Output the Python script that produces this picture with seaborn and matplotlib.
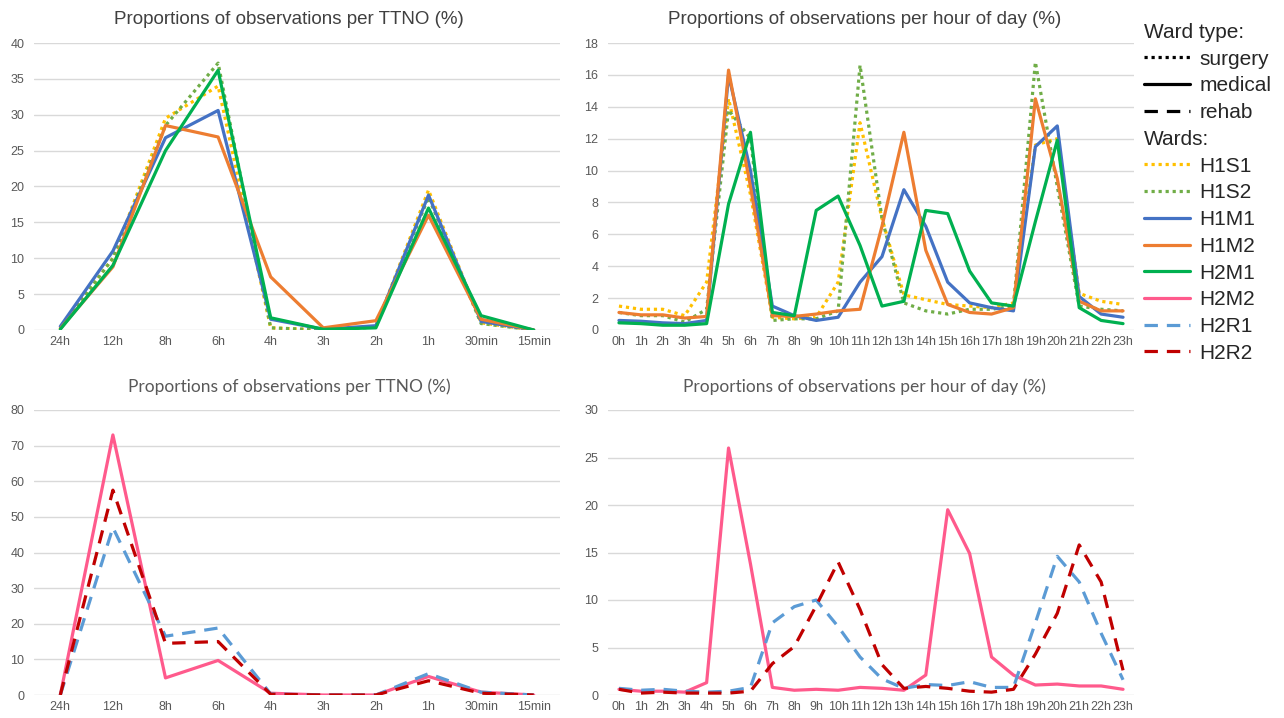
import matplotlib
matplotlib.use("Agg")
import matplotlib.pyplot as plt
from matplotlib.lines import Line2D
import numpy as np
import pandas as pd
import seaborn as sns

# ---------------- data ----------------
ttno_labels = ["24h", "12h", "8h", "6h", "4h", "3h", "2h", "1h", "30min", "15min"]
hour_labels = ["0h", "1h", "2h", "3h", "4h", "5h", "6h", "7h", "8h", "9h", "10h", "11h",
               "12h", "13h", "14h", "15h", "16h", "17h", "18h", "19h", "20h", "21h", "22h", "23h"]

# top-left: TTNO, hospital 1 wards + H2M1
ttno_H1S1 = [0.2, 10.0, 29.5, 34.0, 0.3, 0.0, 0.5, 19.5, 1.0, 0.0]
ttno_H1S2 = [0.2, 10.0, 28.5, 37.2, 0.3, 0.0, 0.4, 18.5, 0.9, 0.0]
ttno_H1M1 = [0.5, 11.0, 26.8, 30.6, 1.5, 0.1, 0.6, 18.8, 1.2, 0.0]
ttno_H1M2 = [0.2, 8.8, 28.5, 26.9, 7.4, 0.3, 1.3, 16.0, 1.5, 0.0]
ttno_H2M1 = [0.1, 9.0, 25.0, 36.2, 1.7, 0.1, 0.3, 17.0, 2.0, 0.0]

# bottom-left: TTNO, H2M2 and rehab wards
ttno_H2M2 = [0.0, 73.0, 4.8, 9.7, 0.5, 0.0, 0.0, 5.2, 0.8, 0.0]
ttno_H2R1 = [0.0, 47.0, 16.5, 18.8, 0.3, 0.0, 0.0, 6.0, 0.8, 0.0]
ttno_H2R2 = [0.0, 57.5, 14.5, 15.0, 0.2, 0.0, 0.0, 4.0, 0.5, 0.0]

# top-right: hour of day
hour_H1S1 = [1.5, 1.3, 1.3, 0.9, 3.0, 14.5, 8.5, 0.8, 0.7, 0.8, 3.0, 13.0,
             7.0, 2.2, 1.9, 1.6, 1.5, 1.4, 1.7, 11.6, 12.0, 2.3, 1.8, 1.6]
hour_H1S2 = [1.1, 0.9, 0.9, 0.5, 1.3, 13.8, 12.0, 0.6, 0.7, 0.7, 1.2, 16.6,
             7.0, 1.7, 1.2, 1.0, 1.3, 1.3, 1.5, 16.8, 9.0, 1.5, 1.3, 1.2]
hour_H1M1 = [0.6, 0.55, 0.45, 0.4, 0.6, 16.0, 10.0, 1.5, 0.9, 0.6, 0.8, 3.0,
             4.6, 8.8, 6.5, 3.0, 1.7, 1.4, 1.2, 11.5, 12.8, 2.1, 1.0, 0.8]
hour_H1M2 = [1.1, 0.95, 0.95, 0.75, 0.85, 16.3, 9.0, 0.9, 0.85, 1.0, 1.2, 1.3,
             6.5, 12.4, 5.0, 1.6, 1.1, 1.0, 1.4, 14.5, 9.5, 1.8, 1.2, 1.2]
hour_H2M1 = [0.45, 0.4, 0.3, 0.3, 0.4, 7.9, 12.4, 1.1, 0.9, 7.5, 8.4, 5.3,
             1.5, 1.8, 7.5, 7.3, 3.7, 1.7, 1.5, 6.8, 11.9, 1.4, 0.6, 0.4]

# bottom-right: hour of day
hour_H2M2 = [0.6, 0.4, 0.4, 0.3, 1.3, 26.0, 13.8, 0.8, 0.5, 0.6, 0.5, 0.8,
             0.7, 0.5, 2.1, 19.5, 14.9, 4.0, 2.1, 1.05, 1.15, 0.95, 0.95, 0.6]
hour_H2R1 = [0.7, 0.5, 0.6, 0.4, 0.3, 0.4, 0.8, 7.6, 9.3, 10.0, 7.2, 4.0,
             1.7, 0.7, 1.1, 1.0, 1.4, 0.8, 0.8, 7.6, 14.6, 11.9, 6.5, 1.6]
hour_H2R2 = [0.6, 0.2, 0.3, 0.2, 0.2, 0.2, 0.4, 3.3, 5.1, 9.4, 14.0, 9.0,
             3.2, 0.7, 0.9, 0.7, 0.4, 0.3, 0.6, 4.3, 8.6, 15.8, 11.9, 2.6]

ward_order = ["H1S1", "H1S2", "H1M1", "H1M2", "H2M1", "H2M2", "H2R1", "H2R2"]
ward_type = {"H1S1": "surgery", "H1S2": "surgery", "H1M1": "medical", "H1M2": "medical",
             "H2M1": "medical", "H2M2": "medical", "H2R1": "rehab", "H2R2": "rehab"}
type_order = ["surgery", "medical", "rehab"]

# ---------------- styles ----------------
colors = {"H1S1": "#FFC000", "H1S2": "#70AD47", "H1M1": "#4472C4", "H1M2": "#ED7D31",
          "H2M1": "#00B050", "H2M2": "#FF5A8C", "H2R1": "#5B9BD5", "H2R2": "#C00000"}
type_dash = {"surgery": (1, 1.2), "medical": "", "rehab": (4.2, 2.8)}
dashes = {w: type_dash[ward_type[w]] for w in ward_order}
LW = 2.3

sns.set_theme(style="white")
plt.rcParams['font.family'] = ['Liberation Sans', 'DejaVu Sans']

W, H = 1284, 718
fig = plt.figure(figsize=(W / 100, H / 100), dpi=100)


def px_axes(x0, y0, x1, y1):
    return fig.add_axes([x0 / W, 1 - y1 / H, (x1 - x0) / W, (y1 - y0) / H])


def panel(ax, labels, series, ymax, ystep, title, tx, tfont, tcolor, tpad, tsize):
    rows = []
    for ward, vals in series.items():
        for i, v in enumerate(vals):
            rows.append({"pos": i, "value": v, "ward": ward})
    df = pd.DataFrame(rows)
    wards = list(series.keys())
    sns.lineplot(data=df, x="pos", y="value", hue="ward", style="ward",
                 hue_order=wards, style_order=wards,
                 palette={w: colors[w] for w in wards},
                 dashes={w: dashes[w] for w in wards},
                 linewidth=LW, ax=ax, legend=False, sort=False)
    ax.set_xlim(-0.5, len(labels) - 0.5)
    ax.set_ylim(0, ymax)
    ax.set_xticks(range(len(labels)))
    ax.set_xticklabels(labels)
    ax.set_yticks(np.arange(0, ymax + 0.001, ystep))
    ax.set_xlabel("")
    ax.set_ylabel("")
    ax.yaxis.grid(True, color="#D9D9D9", linewidth=1.0)
    ax.xaxis.grid(False)
    ax.set_axisbelow(True)
    for s in ax.spines.values():
        s.set_visible(False)
    ax.tick_params(axis="both", length=0, labelsize=9, colors="#595959")
    ax.tick_params(axis="y", pad=7)
    ax.tick_params(axis="x", pad=4)
    ax.set_title(title, x=tx, pad=tpad, fontsize=tsize, color=tcolor, family=tfont)


ax_tl = px_axes(34, 43, 560, 330)
ax_tr = px_axes(608, 43, 1134, 330)
ax_bl = px_axes(34, 410, 560, 695)
ax_br = px_axes(608, 410, 1134, 695)

panel(ax_tl, ttno_labels,
      {"H1S1": ttno_H1S1, "H1S2": ttno_H1S2, "H1M1": ttno_H1M1, "H1M2": ttno_H1M2, "H2M1": ttno_H2M1},
      40, 5, "Proportions of observations per TTNO (%)", 0.485,
      ['Liberation Sans', 'DejaVu Sans'], "#404040", 14, 13.5)
panel(ax_tr, hour_labels,
      {"H1S1": hour_H1S1, "H1S2": hour_H1S2, "H1M1": hour_H1M1, "H1M2": hour_H1M2, "H2M1": hour_H2M1},
      18, 2, "Proportions of observations per hour of day (%)", 0.487,
      ['Liberation Sans', 'DejaVu Sans'], "#404040", 14, 13.5)
panel(ax_bl, ttno_labels,
      {"H2M2": ttno_H2M2, "H2R1": ttno_H2R1, "H2R2": ttno_H2R2},
      80, 10, "Proportions of observations per TTNO (%)", 0.485,
      ['Lato', 'DejaVu Sans'], "#595959", 13, 12.5)
panel(ax_br, hour_labels,
      {"H2M2": hour_H2M2, "H2R1": hour_H2R1, "H2R2": hour_H2R2},
      30, 5, "Proportions of observations per hour of day (%)", 0.487,
      ['Lato', 'DejaVu Sans'], "#595959", 13, 12.5)

# ---------------- legends ----------------
type_handles = []
for t in type_order:
    h = Line2D([], [], color="black", linewidth=LW, label=t)
    if type_dash[t]:
        h.set_dashes(type_dash[t])
    type_handles.append(h)
ward_handles = []
for w in ward_order:
    h = Line2D([], [], color=colors[w], linewidth=LW, label=w)
    if dashes[w]:
        h.set_dashes(dashes[w])
    ward_handles.append(h)

common = dict(loc="upper left", frameon=False, alignment="left", fontsize=15,
              title_fontsize=15, handlelength=2.2, handletextpad=0.45,
              labelspacing=0.37, borderaxespad=0, borderpad=0, labelcolor="#262626")
leg1 = fig.legend(handles=type_handles, title="Ward type:",
                  bbox_to_anchor=(1144 / W, 1 - 23 / H), **common)
leg2 = fig.legend(handles=ward_handles, title="Wards:",
                  bbox_to_anchor=(1144 / W, 1 - 130 / H), **common)
for lg in (leg1, leg2):
    lg.get_title().set_color("#262626")

fig.savefig("out.png", dpi=100)
